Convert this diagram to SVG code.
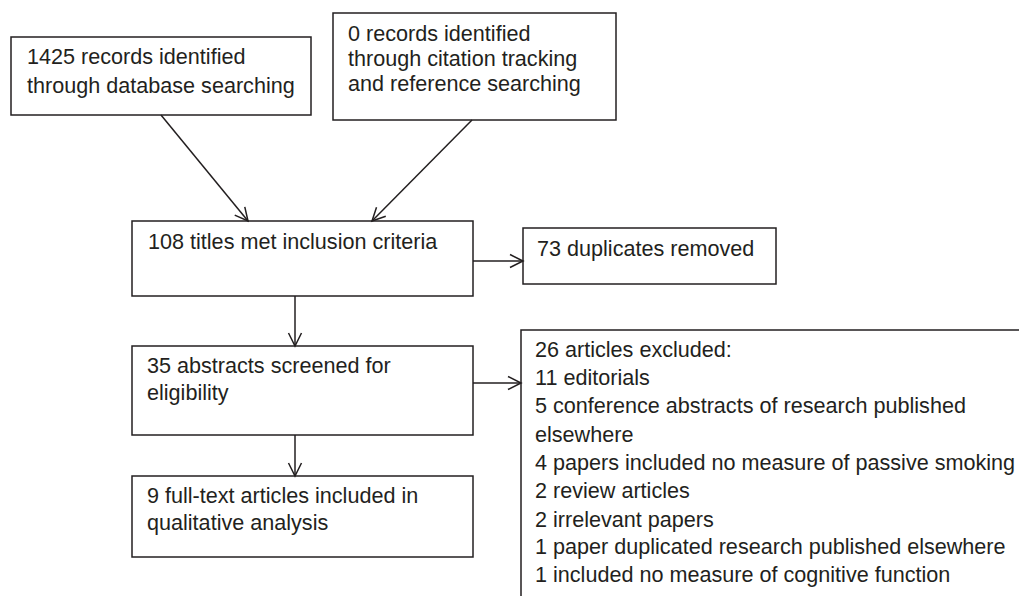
<svg xmlns="http://www.w3.org/2000/svg" width="1019" height="596" viewBox="0 0 1019 596">
<style>
.box{fill:#fff;stroke:#231f20;stroke-width:1.5}
.t{font-family:"Liberation Sans",Arial,sans-serif;font-size:21.6px;fill:#231f20}
.c{fill:none;stroke:#231f20;stroke-width:1.5}
</style>
<defs>
<marker id="arr" markerUnits="userSpaceOnUse" markerWidth="20" markerHeight="20" viewBox="-15 -10 20 20" refX="0" refY="0" orient="auto">
<path d="M-13,-6.5 L0,0 L-13,6.5" fill="none" stroke="#231f20" stroke-width="1.5"/>
</marker>
</defs>
<rect width="1019" height="596" fill="#fff"/>
<g id="n1"><rect class="box" x="11" y="37" width="300" height="78"/>
<text class="t" x="27" y="64">1425 records identified</text>
<text class="t" x="27" y="93">through database searching</text></g>
<g id="n2"><rect class="box" x="333" y="13" width="283" height="107"/>
<text class="t" x="348" y="41">0 records identified</text>
<text class="t" x="348" y="66">through citation tracking</text>
<text class="t" x="348" y="91">and reference searching</text></g>
<g id="n3"><rect class="box" x="132" y="221" width="341" height="75"/>
<text class="t" x="148" y="249">108 titles met inclusion criteria</text></g>
<g id="n4"><rect class="box" x="523" y="228" width="253" height="56"/>
<text class="t" x="537" y="256">73 duplicates removed</text></g>
<g id="n5"><rect class="box" x="521" y="330" width="520" height="300"/>
<text class="t" x="535" y="357">26 articles excluded:</text>
<text class="t" x="535" y="385">11 editorials</text>
<text class="t" x="535" y="413">5 conference abstracts of research published</text>
<text class="t" x="535" y="442">elsewhere</text>
<text class="t" x="535" y="470">4 papers included no measure of passive smoking</text>
<text class="t" x="535" y="498">2 review articles</text>
<text class="t" x="535" y="527">2 irrelevant papers</text>
<text class="t" x="535" y="554">1 paper duplicated research published elsewhere</text>
<text class="t" x="535" y="582">1 included no measure of cognitive function</text></g>
<g id="n6"><rect class="box" x="132" y="346" width="341" height="89"/>
<text class="t" x="147" y="373">35 abstracts screened for</text>
<text class="t" x="147" y="400">eligibility</text></g>
<g id="n7"><rect class="box" x="132" y="476" width="341" height="81"/>
<text class="t" x="147" y="503">9 full-text articles included in</text>
<text class="t" x="147" y="530">qualitative analysis</text></g>
<g id="connectors">
<line class="c" x1="161" y1="115" x2="248" y2="221" marker-end="url(#arr)"/>
<line class="c" x1="472" y1="120" x2="372" y2="221" marker-end="url(#arr)"/>
<line class="c" x1="473" y1="261" x2="523" y2="261" marker-end="url(#arr)"/>
<line class="c" x1="295" y1="296" x2="295" y2="346" marker-end="url(#arr)"/>
<line class="c" x1="473" y1="383" x2="521" y2="383" marker-end="url(#arr)"/>
<line class="c" x1="295" y1="435" x2="295" y2="476" marker-end="url(#arr)"/>
</g>
</svg>
